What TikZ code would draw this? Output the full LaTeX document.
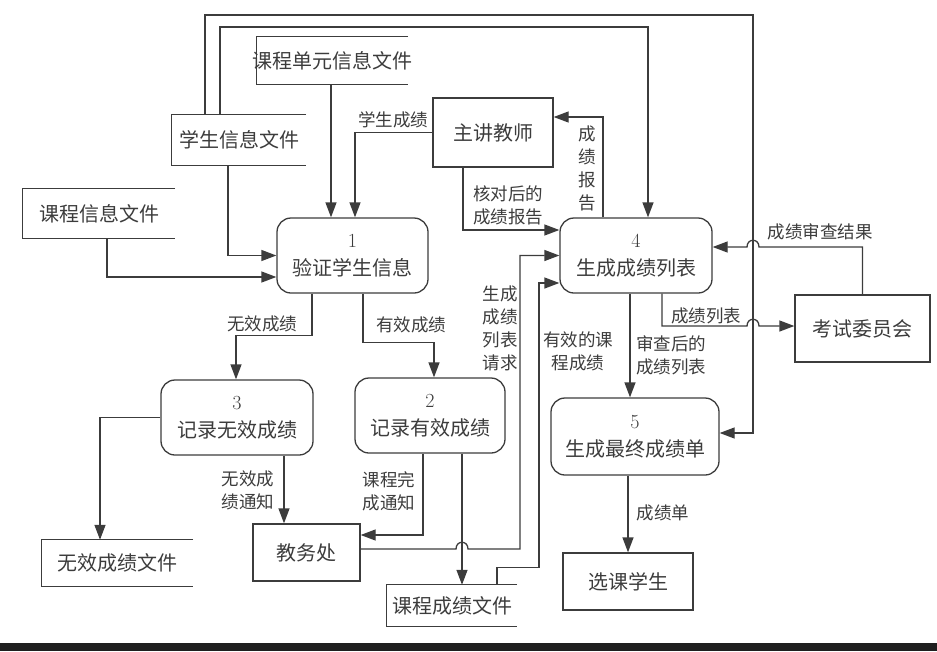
\documentclass[tikz,border=0pt]{standalone}
\usepackage{fontspec}
\newfontfamily\cjk{Noto Sans CJK SC}
\usetikzlibrary{arrows.meta}
\definecolor{ink}{HTML}{3C3C3C}

\tikzset{
  proc/.style={draw=ink, line width=1.3pt, rounded corners=14pt, align=center, text=ink, inner sep=0pt, font=\fontsize{20}{28}\selectfont},
  ext/.style={draw=ink, line width=1.3pt, text=ink, inner sep=0pt, font=\cjk\fontsize{20}{24}\selectfont},
  store/.style={text=ink, inner sep=0pt, font=\cjk\fontsize{20}{24}\selectfont},
  flow/.style={draw=ink, line width=1.3pt, -{Triangle[length=15pt,width=11pt]}},
  lbl/.style={text=ink, align=center, inner sep=1pt, font=\cjk\fontsize{17.5}{23}\selectfont}
}

\begin{document}
\begin{tikzpicture}[x=1pt,y=-1pt]
\useasboundingbox (0,0) rectangle (937,651);

% External entities
\node[ext, minimum width=120pt, minimum height=69pt] (teacher) at (493,132.5) {主讲教师};
\node[ext, minimum width=135pt, minimum height=67pt] (exam) at (862.5,328.5) {考试委员会};
\node[ext, minimum width=107pt, minimum height=57pt] (office) at (306.5,552.5) {教务处};
\node[ext, minimum width=130pt, minimum height=57pt] (stu) at (628,581.5) {选课学生};

% Processes
\node[proc, minimum width=151pt, minimum height=75pt] (p1) at (352.5,255.5) {1\\{\cjk 验证学生信息}};
\node[proc, minimum width=150pt, minimum height=75pt] (p2) at (430,415.5) {2\\{\cjk 记录有效成绩}};
\node[proc, minimum width=152pt, minimum height=75pt] (p3) at (237,417.5) {3\\{\cjk 记录无效成绩}};
\node[proc, minimum width=152pt, minimum height=75pt] (p4) at (636,255.5) {4\\{\cjk 生成成绩列表}};
\node[proc, minimum width=168pt, minimum height=77pt] (p5) at (635,436.5) {5\\{\cjk 生成最终成绩单}};

% Data stores (open on the right)
\node[store, inner xsep=-4.5pt, minimum height=47pt] (cuf) at (332.5,60.5) {课程单元信息文件};
\node[store, minimum width=134pt, minimum height=50pt] (sif) at (239,140) {学生信息文件};
\node[store, minimum width=152pt, minimum height=49pt] (cif) at (99,213.5) {课程信息文件};
\node[store, minimum width=151pt, minimum height=46pt] (ivf) at (117.5,563) {无效成绩文件};
\node[store, minimum width=130pt, minimum height=41pt] (cgf) at (452,605.5) {课程成绩文件};
\foreach \s in {cuf,sif,cif,ivf,cgf}
  \draw[ink, line width=1.3pt] (\s.north east) -- (\s.north west) -- (\s.south west) -- (\s.south east);

% Helper points
\coordinate (outer) at (753,15);
\coordinate (inner) at (648,27);
\coordinate (rv) at ([yshift=8.5pt]p4.east);
\coordinate (lv) at ([yshift=2.5pt]exam.west);
\coordinate (rq) at ([yshift=3.5pt]office.east);
\coordinate (cgx) at ([xshift=10pt]cgf.north);

% Flows
\draw[flow] ([xshift=-34pt]sif.north) |- (outer) |- ([yshift=3.5pt]p5.east);
\draw[flow] ([xshift=-19pt]sif.north) |- (inner) -- ([xshift=12pt]p4.north);
\draw[flow] ([xshift=-1.5pt]cuf.south) -- ([xshift=-21.5pt]p1.north);
\draw[flow] ([xshift=-11pt]sif.south) |- (p1.west);
\draw[flow] ([xshift=8pt]cif.south) |- ([yshift=-21.5pt]p1.west);
\draw[flow] (teacher.west) -| ([xshift=2.5pt]p1.north);
\draw[flow] ([xshift=-33pt]p4.north) |- ([yshift=15.5pt]teacher.east);
\draw[flow] ([xshift=-30pt]teacher.south) |- ([yshift=25.5pt]p4.west);
\draw[flow] (exam.north) |- ([xshift=6pt]outer |- rv) .. controls +(0,-9) and +(0,-9) .. ++(-12,0) -- (rv);
\draw[flow] ([xshift=26pt]p4.south) |- ([xshift=-6pt]outer |- lv) .. controls +(0,-9) and +(0,-9) .. ++(12,0) -- (lv);
\draw[flow] ([xshift=-6pt]p4.south) -- ([xshift=-6pt]p4.south |- p5.north);
\draw[flow] ([xshift=-7pt]p5.south) -- (stu.north);
\draw[flow] ([xshift=-40.5pt]p1.south) -- ++(0,42) -| ([xshift=-1pt]p3.north);
\draw[flow] ([xshift=10.5pt]p1.south) -- ++(0,49) -| ([xshift=4pt]p2.north);
\draw[flow] (p3.west) -| ([xshift=-17.5pt]ivf.north);
\draw[flow] ([xshift=47pt]p3.south) -- ([xshift=-22.5pt]office.north);
\draw[flow] ([xshift=-7pt]p2.south) |- ([yshift=17.5pt]office.east);
\draw[flow] ([xshift=32pt]p2.south) -- (cgx);
\draw[flow] (rq) -- ([xshift=-6pt]rq -| cgx) .. controls +(0,-9) and +(0,-9) .. ++(12,0) -- ++(52,0) |- (p4.west);
\draw[flow] ([xshift=45pt]cgf.north) -- ++(0,-17) -- ++(42,0) |- ([yshift=-27.5pt]p4.west);

% Flow labels
\node[lbl] (l1) at (393,120) {学生成绩};
\node[lbl] (l2) at (587,168) {成\\绩\\报\\告};
\node[lbl] (l3) at (508,205) {核对后的\\成绩报告};
\node[lbl] (l4) at (820,232) {成绩审查结果};
\node[lbl] (l5) at (706,316) {成绩列表};
\node[lbl] (l6) at (671,355) {审查后的\\成绩列表};
\node[lbl] (l7) at (663,513) {成绩单};
\node[lbl] (l8) at (262,324) {无效成绩};
\node[lbl] (l9) at (411,325) {有效成绩};
\node[lbl] (l10) at (248,490) {无效成\\绩通知};
\node[lbl] (l11) at (389,491) {课程完\\成通知};
\node[lbl] (l12) at (500,328) {生成\\成绩\\列表\\请求};
\node[lbl] (l13) at (578,351) {有效的课\\程成绩};

% Bottom band
\fill[black!88] (0,643) rectangle (937,651);
\end{tikzpicture}
\end{document}
